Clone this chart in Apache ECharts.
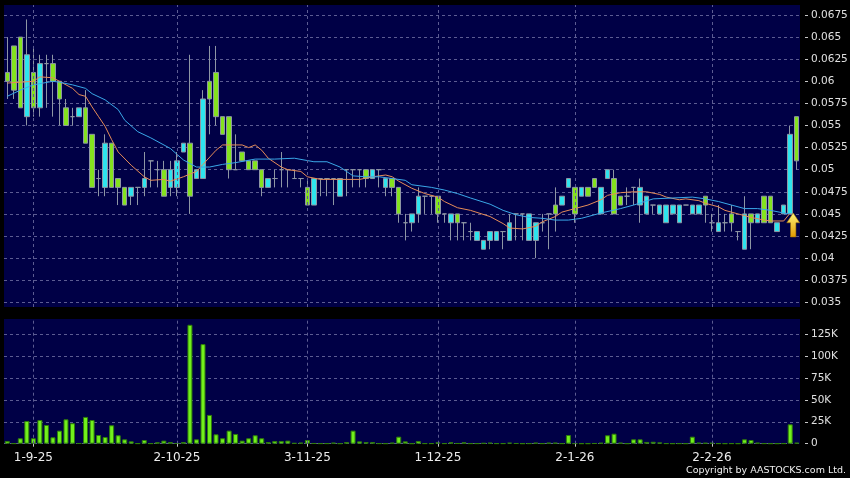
<!DOCTYPE html>
<html><head><meta charset="utf-8">
<script src="https://cdn.jsdelivr.net/npm/echarts/dist/echarts.min.js"></script>
<style>html,body{margin:0;padding:0;background:#000;}#c{width:850px;height:478px;}</style>
</head><body><div id="c"></div>
<script>
const dates = [
'26-8-25','27-8-25','28-8-25','29-8-25',
'1-9-25','2-9-25','3-9-25','4-9-25','5-9-25','8-9-25','9-9-25','10-9-25','11-9-25','12-9-25','15-9-25','16-9-25','17-9-25','18-9-25','19-9-25','22-9-25','23-9-25','24-9-25','25-9-25','26-9-25','29-9-25','30-9-25',
'2-10-25','3-10-25','6-10-25','8-10-25','9-10-25','10-10-25','13-10-25','14-10-25','15-10-25','16-10-25','17-10-25','20-10-25','21-10-25','22-10-25','23-10-25','24-10-25','27-10-25','28-10-25','30-10-25','31-10-25',
'3-11-25','4-11-25','5-11-25','6-11-25','7-11-25','10-11-25','11-11-25','12-11-25','13-11-25','14-11-25','17-11-25','18-11-25','19-11-25','20-11-25','21-11-25','24-11-25','25-11-25','26-11-25','27-11-25','28-11-25',
'1-12-25','2-12-25','3-12-25','4-12-25','5-12-25','8-12-25','9-12-25','10-12-25','11-12-25','12-12-25','15-12-25','16-12-25','17-12-25','18-12-25','19-12-25','22-12-25','23-12-25','24-12-25','29-12-25','30-12-25','31-12-25',
'2-1-26','5-1-26','6-1-26','7-1-26','8-1-26','9-1-26','12-1-26','13-1-26','14-1-26','15-1-26','16-1-26','19-1-26','20-1-26','21-1-26','22-1-26','23-1-26','26-1-26','27-1-26','28-1-26','29-1-26','30-1-26',
'2-2-26','3-2-26','4-2-26','5-2-26','6-2-26','9-2-26','10-2-26','11-2-26','12-2-26','13-2-26','16-2-26','20-2-26','23-2-26','24-2-26'
];
const labelDates = ['1-9-25','2-10-25','3-11-25','1-12-25','2-1-26','2-2-26'];

const opens = [
.061,.064,.065,.056,.061,.057,.062,.062,.060,.057,
.056,.056,.057,.054,.049,.048,.053,.049,.048,.047,
.048,.048,.051,.050,.050,.048,.048,.052,.053,.049,
.049,.060,.061,.056,.056,.050,.052,.051,.051,.050,
.048,.049,.050,.050,.049,.049,.048,.046,.049,.049,
.049,.047,.050,.050,.050,.050,.049,.050,.048,.049,
.048,.044,.044,.045,.047,.047,.047,.045,.044,.045,
.044,.043,.042,.041,.042,.042,.043,.042,.045,.045,
.042,.042,.044,.045,.046,.046,.048,.048,.047,.048,
.049,.045,.049,.049,.047,.047,.048,.046,.045,.046,
.045,.044,.045,.044,.046,.045,.045,.047,.044,.043,
.044,.045,.043,.041,.045,.044,.047,.047,.043,.045,
.045,.056];
const closes = [
.060,.059,.057,.063,.057,.062,.062,.060,.058,.055,
.056,.057,.053,.048,.049,.053,.048,.048,.046,.048,
.048,.049,.051,.050,.047,.050,.051,.053,.047,.050,
.058,.058,.056,.054,.050,.050,.051,.050,.050,.048,
.049,.049,.050,.050,.049,.049,.046,.049,.049,.049,
.049,.049,.050,.050,.050,.049,.050,.050,.049,.048,
.045,.044,.045,.047,.047,.047,.045,.045,.045,.044,
.044,.043,.043,.042,.043,.043,.043,.044,.045,.045,
.045,.044,.044,.045,.045,.047,.049,.045,.048,.047,
.048,.048,.050,.045,.046,.047,.048,.048,.047,.046,
.046,.046,.046,.046,.046,.046,.046,.046,.044,.044,
.044,.044,.043,.045,.044,.045,.044,.044,.044,.046,
.054,.051];
const lows = [
.058,.058,.057,.055,.056,.056,.057,.056,.055,.055,
.055,.056,.053,.048,.047,.047,.048,.046,.046,.046,
.046,.047,.048,.048,.047,.047,.047,.052,.045,.049,
.049,.054,.055,.054,.049,.050,.051,.050,.050,.047,
.048,.048,.048,.048,.049,.048,.046,.046,.047,.047,
.046,.047,.047,.048,.048,.048,.049,.048,.047,.047,
.044,.042,.043,.044,.045,.045,.044,.044,.042,.042,
.042,.042,.042,.041,.041,.042,.041,.042,.042,.042,
.042,.040,.043,.041,.043,.046,.048,.044,.047,.047,
.048,.045,.049,.045,.046,.046,.046,.044,.045,.045,
.045,.044,.045,.044,.046,.045,.045,.044,.043,.043,
.043,.043,.042,.041,.041,.044,.044,.044,.043,.045,
.045,.050];
const highs = [
.065,.064,.065,.067,.064,.063,.063,.063,.060,.058,
.057,.057,.059,.054,.050,.054,.053,.049,.048,.048,
.048,.052,.051,.051,.051,.051,.052,.053,.063,.050,
.059,.064,.064,.056,.056,.054,.052,.051,.051,.050,
.049,.050,.052,.050,.050,.049,.049,.049,.049,.049,
.049,.049,.050,.050,.050,.050,.050,.050,.049,.049,
.048,.045,.045,.048,.047,.047,.047,.045,.045,.045,
.044,.044,.043,.042,.043,.043,.043,.045,.045,.045,
.045,.044,.045,.045,.048,.047,.049,.048,.048,.048,
.049,.048,.050,.050,.047,.048,.048,.049,.047,.046,
.046,.046,.046,.046,.046,.046,.046,.047,.045,.046,
.045,.046,.043,.047,.045,.045,.047,.047,.044,.046,
.055,.056];

const volumes = [
3100,300,6200,25900,6200,27000,21300,7300,14900,27800,
23300,500,30500,27000,9900,7600,21000,9600,5000,2700,
300,4200,300,1600,3500,1800,500,1800,135500,5000,
113500,32800,10700,6200,14900,11100,3500,6200,9600,6200,
1800,3100,3100,3500,800,1200,4200,500,300,300,
1200,200,1800,14900,2700,1800,1800,300,200,1200,
8000,2700,200,3100,300,300,1600,300,1600,500,
1600,300,300,800,1200,300,300,1200,500,200,
300,1200,300,1200,1200,300,9900,300,200,200,
500,1000,9600,11400,1200,200,5000,5000,2000,2200,
1500,300,200,300,200,8000,1200,1000,1000,300,
200,300,200,5000,4200,1200,300,200,200,300,
22100,1200];

// moving averages: [day index, value]
const maShort = [[0,0.0598],[4,0.0600],[5,0.0605],[7,0.0604],[8,0.0600],[10,0.0592],[11,0.0585],[12,0.0583],[13,0.0571],[14,0.0560],[15,0.0549],[16,0.0534],[17,0.0520],[19,0.0505],[21,0.0492],[22,0.0488],[24,0.0489],[25,0.0487],[27,0.0492],[29,0.0498],[30,0.0506],[32,0.0522],[33,0.0528],[35,0.0528],[36,0.0528],[37,0.0525],[38,0.0528],[39,0.0522],[40,0.0513],[42,0.0503],[43,0.0500],[45,0.0498],[46,0.0492],[48,0.0489],[51,0.0489],[54,0.0489],[56,0.0492],[58,0.0494],[59,0.0492],[60,0.0487],[62,0.0479],[64,0.0473],[66,0.0469],[67,0.0464],[69,0.0457],[71,0.0454],[74,0.0447],[76,0.0439],[77,0.0434],[79,0.0433],[81,0.0436],[82,0.0441],[84,0.0447],[85,0.0452],[87,0.0456],[89,0.0460],[91,0.0466],[92,0.0471],[94,0.0474],[96,0.0475],[98,0.0475],[100,0.0472],[101,0.0469],[103,0.0466],[104,0.0467],[106,0.0465],[107,0.0462],[109,0.0458],[110,0.0454],[112,0.0450],[114,0.0446],[116,0.0443],[117,0.0442],[119,0.0442],[120,0.0451]];
const maLong = [[0,0.0583],[2,0.0590],[4,0.0596],[7,0.0600],[8,0.0599],[10,0.0596],[12,0.0592],[13,0.0586],[15,0.0579],[17,0.0568],[18,0.0556],[20,0.0543],[22,0.0536],[25,0.0524],[27,0.0511],[29,0.0503],[31,0.0503],[33,0.0506],[35,0.0508],[38,0.0512],[41,0.0512],[44,0.0513],[47,0.0509],[49,0.0509],[51,0.0503],[53,0.0493],[55,0.0492],[57,0.0492],[59,0.0490],[61,0.0488],[62,0.0483],[65,0.0480],[67,0.0477],[69,0.0473],[71,0.0468],[74,0.0461],[76,0.0454],[78,0.0449],[80,0.0446],[82,0.0445],[84,0.0443],[86,0.0443],[88,0.0445],[90,0.0449],[91,0.0451],[94,0.0456],[96,0.0460],[99,0.0467],[102,0.0468],[105,0.0469],[107,0.0467],[109,0.0464],[111,0.0460],[113,0.0456],[115,0.0456],[117,0.0454],[119,0.0451],[120,0.0450]];

const priceMin = 0.035, priceMax = 0.0675, priceStep = 0.0025;
const volMax = 125000, volStep = 25000;
const arrowDay = 120, arrowTip = 0.0451;

const NAVY = '#000046', GRID = '#5c5c92', UP = '#2ee4ee', DOWN = '#84e21e', WICK = '#8e96a4';
const FONT = 'DejaVu Sans';
const showLabel = (i, v) => labelDates.indexOf(v) >= 0;
const vLines = labelDates.map(d => ({xAxis: d}));
const vLineStyle = {color: GRID, type: [3, 3], width: 1};

const chart = echarts.init(document.getElementById('c'), null, {renderer: 'canvas'});
chart.setOption({
  animation: false,
  backgroundColor: '#000',
  graphic: [
    {type: 'rect', z: -10, silent: true, shape: {x: 4, y: 5, width: 796, height: 302}, style: {fill: NAVY}},
    {type: 'rect', z: -10, silent: true, shape: {x: 4, y: 319, width: 796, height: 124.7}, style: {fill: NAVY}},
    {type: 'text', right: 4, top: 466, silent: true, style: {text: 'Copyright by AASTOCKS.com Ltd.', fill: '#f0f0f0', font: '9.5px "DejaVu Sans"'}}
  ],
  grid: [
    {left: 4, width: 796, top: 5, height: 302, outerBoundsMode: 'none'},
    {left: 4, width: 796, top: 15, height: 287.3, outerBoundsMode: 'none'},
    {left: 4, width: 796, top: 319, height: 124.7, outerBoundsMode: 'none'},
    {left: 4, width: 796, top: 334, height: 109.7, outerBoundsMode: 'none'}
  ],
  xAxis: [
    {gridIndex: 0, type: 'category', data: dates, boundaryGap: true, show: false},
    {gridIndex: 1, type: 'category', data: dates, boundaryGap: true, show: false},
    {gridIndex: 2, type: 'category', data: dates, boundaryGap: true, offset: 3,
      axisLine: {show: false},
      axisTick: {show: true, alignWithLabel: true, interval: showLabel, length: 3, lineStyle: {color: '#c8c8c8'}},
      axisLabel: {interval: showLabel, color: '#ececec', fontFamily: FONT, fontSize: 12, margin: 5, hideOverlap: false},
      splitLine: {show: false}},
    {gridIndex: 3, type: 'category', data: dates, boundaryGap: true, show: false}
  ],
  yAxis: [
    {gridIndex: 0, type: 'value', min: 0.034468, max: 0.068631, show: false},
    {gridIndex: 1, type: 'value', position: 'right', min: priceMin, max: priceMax, interval: priceStep, offset: 5,
      axisLine: {show: false},
      axisTick: {show: true, length: 3, lineStyle: {color: '#c8c8c8'}},
      axisLabel: {margin: 6, color: '#e0e0e0', fontFamily: FONT, fontSize: 10.5,
        formatter: v => String(parseFloat(v.toFixed(5)))},
      splitLine: {show: true, lineStyle: vLineStyle}},
    {gridIndex: 2, type: 'value', min: 0, max: 142094, show: false},
    {gridIndex: 3, type: 'value', position: 'right', min: 0, max: volMax, interval: volStep, offset: 5,
      axisLine: {show: false},
      axisTick: {show: true, length: 3, lineStyle: {color: '#c8c8c8'}},
      axisLabel: {margin: 6, color: '#e0e0e0', fontFamily: FONT, fontSize: 10.5,
        formatter: v => v === 0 ? '0' : (v / 1000) + 'K'},
      splitLine: {show: true, lineStyle: vLineStyle}}
  ],
  series: [
    {type: 'line', xAxisIndex: 0, yAxisIndex: 0, data: [], z: 1, silent: true,
      markLine: {silent: true, symbol: ['none', 'none'], label: {show: false}, lineStyle: vLineStyle, data: vLines}},
    {type: 'line', xAxisIndex: 2, yAxisIndex: 2, data: [], z: 1, silent: true,
      markLine: {silent: true, symbol: ['none', 'none'], label: {show: false}, lineStyle: vLineStyle, data: vLines}},
    {type: 'candlestick', xAxisIndex: 0, yAxisIndex: 0, barWidth: 5, z: 2,
      data: dates.map((d, i) => [opens[i], closes[i], lows[i], highs[i]]),
      itemStyle: {color: UP, color0: DOWN, borderColor: WICK, borderColor0: WICK, borderColorDoji: WICK, borderWidth: 1},
      markPoint: {silent: true, label: {show: false},
        data: [{coord: [dates[arrowDay], arrowTip],
          symbol: 'path://M6,0 L12,9 L8.5,9 L8.5,22 L3.5,22 L3.5,9 L0,9 Z',
          symbolSize: [13, 24], symbolOffset: [3, '50%'],
          itemStyle: {color: new echarts.graphic.LinearGradient(0, 0, 0, 1, [{offset: 0, color: '#fff27a'}, {offset: 1, color: '#e09a00'}]),
            borderColor: '#9a6a00', borderWidth: 0.5}}]}},
    {type: 'line', xAxisIndex: 0, yAxisIndex: 0, z: 3, showSymbol: false, symbol: 'none', silent: true,
      data: maShort.map(p => [dates[p[0]], p[1]]), lineStyle: {color: '#e68c58', width: 1}},
    {type: 'line', xAxisIndex: 0, yAxisIndex: 0, z: 3, showSymbol: false, symbol: 'none', silent: true,
      data: maLong.map(p => [dates[p[0]], p[1]]), lineStyle: {color: '#3aa8e8', width: 1}},
    {type: 'bar', xAxisIndex: 2, yAxisIndex: 2, barWidth: 5, z: 2,
      data: volumes, itemStyle: {color: '#72f01c', borderColor: '#2f7d0a', borderWidth: 1}}
  ]
});
</script>
</body></html>
